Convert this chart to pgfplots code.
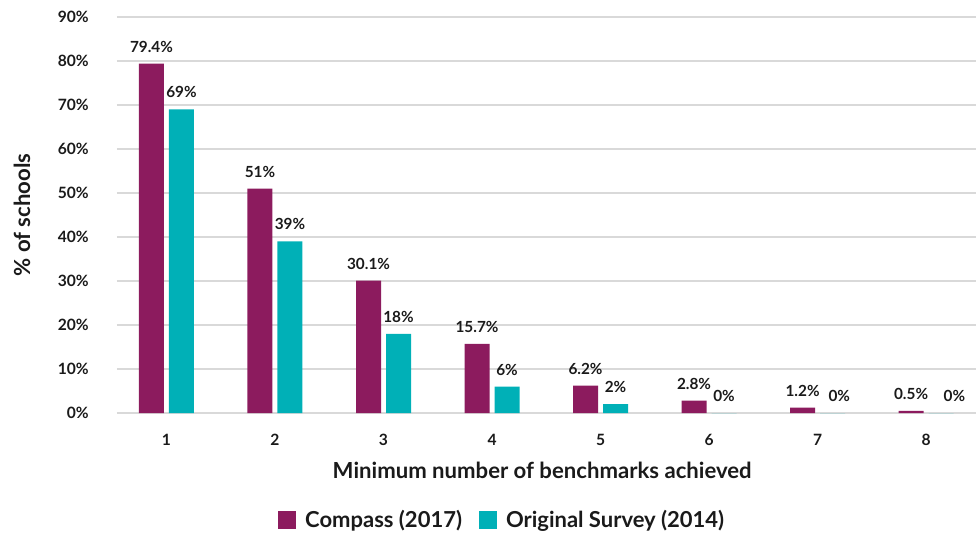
\documentclass[border=0pt]{standalone}
\usepackage{fontspec}
\setmainfont{Lato}
\usepackage{pgfplots}
\pgfplotsset{compat=1.18}
\definecolor{cpurple}{HTML}{8C1B5E}
\definecolor{cteal}{HTML}{00B0B7}
\definecolor{cgrid}{HTML}{D9D9D9}
\definecolor{ctext}{HTML}{1A1A1A}
\pgfplotsset{sqlegend/.style={legend image code/.code={\fill[##1] (0pt,-6.75pt) rectangle (13.5pt,6.75pt);}}}
\begin{document}
\begin{tikzpicture}[font=\bfseries]
\useasboundingbox (-87.75pt,-90pt) rectangle (645.75pt,309.75pt);
\begin{axis}[
  scale only axis, width=644.25pt, height=297pt,
  xmin=0.544, xmax=8.46, ymin=0, ymax=90,
  ybar=3.75pt, bar width=18.75pt,
  axis line style={draw=none}, tick style={draw=none},
  ymajorgrids, grid style={cgrid, line width=1.5pt},
  ytick={0,10,...,90}, xtick={1,...,8},
  /pgf/number format/assume math mode=true,
  yticklabel={\pgfmathprintnumber{\tick}\%},
  ticklabel style={font=\bfseries\fontsize{11.7}{13}\selectfont, text=ctext},
  yticklabel style={anchor=east, inner sep=0pt, xshift=-21pt},
  xticklabel style={anchor=center, inner sep=0pt, yshift=-16pt},
  xlabel={Minimum number of benchmarks achieved},
  ylabel={\% of schools},
  every axis x label/.style={at={(axis description cs:0.495,-0.144)}, anchor=center, font=\bfseries\fontsize{16.6}{18}\selectfont, text=ctext},
  every axis y label/.style={at={(axis description cs:-0.1106,0.5)}, anchor=center, rotate=90, font=\bfseries\fontsize{16.6}{18}\selectfont, text=ctext},
  nodes near coords={\pgfmathprintnumber{\pgfplotspointmeta}\%},
  every node near coord/.append style={font=\bfseries\fontsize{11.5}{13}\selectfont, text=ctext, yshift=5pt},
  legend columns=2,
  legend style={at={(axis description cs:0.449,-0.270)}, anchor=center, draw=none, fill=none,
    font=\bfseries\fontsize{16.5}{18}\selectfont, text=ctext,
    /tikz/every odd column/.append style={column sep=4.5pt},
    /tikz/every even column/.append style={column sep=11pt}},
]
\addplot[fill=cpurple, draw=none, sqlegend]
  coordinates {(1,79.4) (2,51) (3,30.1) (4,15.7) (5,6.2) (6,2.8) (7,1.2) (8,0.5)};
\addlegendentry{Compass (2017)}
\addplot[fill=cteal, draw=none, sqlegend,
  visualization depends on={x \as \myx},
  every node near coord/.append style={xshift={(\myx>6.5)*(\myx-6)*5pt}}]
  coordinates {(1,69) (2,39) (3,18) (4,6) (5,2) (6,0) (7,0) (8,0)};
\addlegendentry{Original Survey (2014)}
\end{axis}
\end{tikzpicture}
\end{document}
